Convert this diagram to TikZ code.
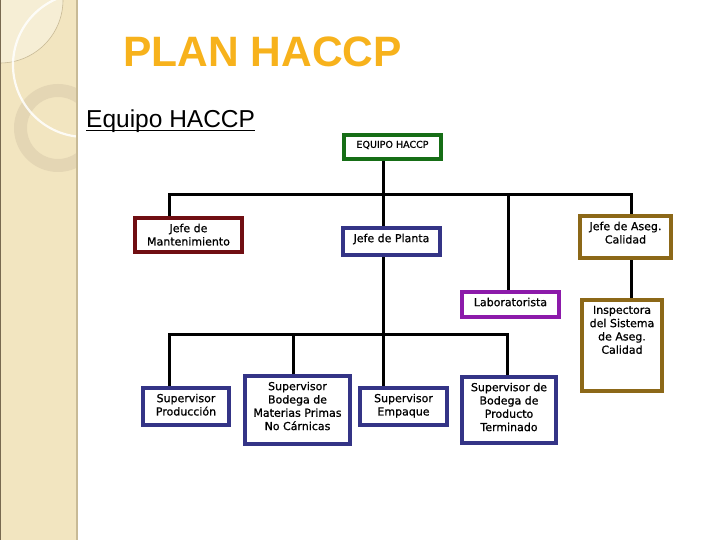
\documentclass[tikz,border=0pt]{standalone}
\usepackage{fontspec}
\usepackage{xcolor}
\usepackage{tikz}
\setmainfont{Liberation Sans}
\newfontface\boxfont[FakeBold=0.9]{DejaVu Sans}

\definecolor{titleorange}{RGB}{247,178,28}
\definecolor{sidetan}{RGB}{242,229,192}
\definecolor{sideedge}{RGB}{200,186,150}
\definecolor{sidedark}{RGB}{120,105,80}
\definecolor{ringtan}{RGB}{228,214,180}
\definecolor{boxgreen}{RGB}{22,110,22}
\definecolor{boxmaroon}{RGB}{112,14,18}
\definecolor{boxnavy}{RGB}{52,52,134}
\definecolor{boxpurple}{RGB}{140,26,170}
\definecolor{boxgold}{RGB}{140,104,24}

\newcommand{\cardtext}[3]{\parbox[c][#2pt][t]{#1pt}{\centering\vspace*{6pt}#3\par}}

\begin{document}
\begin{tikzpicture}[x=1pt,y=-1pt,
        card/.style={draw,line width=3.6pt,inner sep=0pt,fill=white,
          font=\boxfont\fontsize{11}{13.3}\selectfont},
        wire/.style={line width=3pt}]
      \useasboundingbox (0,0) rectangle (720,540);

      \fill[sidetan] (0,0) rectangle (78,540);
      \begin{scope}
        \clip (0,0) rectangle (76,540);
        \fill[white,opacity=.35] (0,0) -- (63,0) arc[start angle=0,end angle=90,radius=63] -- cycle;
        \draw[sideedge,line width=.6pt] (63,0) arc[start angle=0,end angle=90,radius=63];
        \fill[ringtan,even odd rule] (58,128) circle (44) (58,128) circle (31);
        \draw[white,opacity=.85,line width=2.2pt] (85,65) circle (72);
      \end{scope}
      \draw[sideedge,line width=2pt] (77,0) -- (77,540);
      \draw[sidedark,line width=1pt] (0.5,0) -- (0.5,540);

      \node[anchor=base west,inner sep=0pt,text=titleorange,
            font=\fontsize{42.5}{50}\selectfont\bfseries] (title) at (123,67) {PLAN HACCP};
      \node[anchor=base west,inner sep=0pt,font=\fontsize{24.5}{29}\selectfont] (sub) at (86,128) {Equipo HACCP};
      \draw[line width=1.8pt] ([yshift=-2.5pt]sub.base west) -- ([yshift=-2.5pt]sub.base east);

      \node[card,draw=boxgreen,font=\boxfont\fontsize{9.5}{11}\selectfont] (equipo) at (392.5,147) {\cardtext{97.4}{24.4}{EQUIPO HACCP}};
      \node[card,draw=boxmaroon] (mant)   at (188.5,235)   {\cardtext{107.4}{34.4}{Jefe de\\Mantenimiento}};
      \node[card,draw=boxnavy]   (planta) at (391.5,241.5) {\cardtext{97.4}{27.4}{Jefe de Planta}};
      \node[card,draw=boxgold]   (aseg)   at (625.5,237)   {\cardtext{91.4}{42.4}{Jefe de Aseg.\\Calidad}};
      \node[card,draw=boxpurple] (lab)    at (510.5,304.5) {\cardtext{97.4}{25.4}{Laboratorista}};
      \node[card,draw=boxgold]   (insp)   at (622,345.5)   {\cardtext{80.4}{91.4}{Inspectora\\del Sistema\\de Aseg.\\Calidad}};
      \node[card,draw=boxnavy]   (prod)   at (186,406.5)   {\cardtext{86.4}{37.4}{Supervisor\\Producción}};
      \node[card,draw=boxnavy]   (bodmp)  at (297.5,410)   {\cardtext{105.4}{68.4}{Supervisor\\Bodega de\\Materias Primas\\No Cárnicas}};
      \node[card,draw=boxnavy]   (empaque) at (403.5,406.5) {\cardtext{87.4}{37.4}{Supervisor\\Empaque}};
      \node[card,draw=boxnavy]   (bodpt)  at (509,410)     {\cardtext{94.4}{66.4}{Supervisor de\\Bodega de\\Producto\\Terminado}};

      \coordinate (busA) at (383.5,194.5);
      \coordinate (busB) at (383.5,334);

      \draw[wire] (equipo.south -| busA) -- (planta.north -| busA);
      \draw[wire] ([xshift=-19.5pt]mant.north) |- (busA) -| ([xshift=5.5pt]aseg.north);
      \draw[wire] ([xshift=-2pt]lab.north) -- ([xshift=-2pt]lab.north |- busA);
      \draw[wire] ([xshift=5.5pt]aseg.south) -- ([xshift=5.5pt]aseg.south |- insp.north);
      \draw[wire] (planta.south -| busB) -- (empaque.north -| busB);
      \draw[wire] ([xshift=-17pt]prod.north) |- (busB) -| ([xshift=-2pt]bodpt.north);
      \draw[wire] ([xshift=-4.5pt]bodmp.north) -- ([xshift=-4.5pt]bodmp.north |- busB);
\end{tikzpicture}
\end{document}
